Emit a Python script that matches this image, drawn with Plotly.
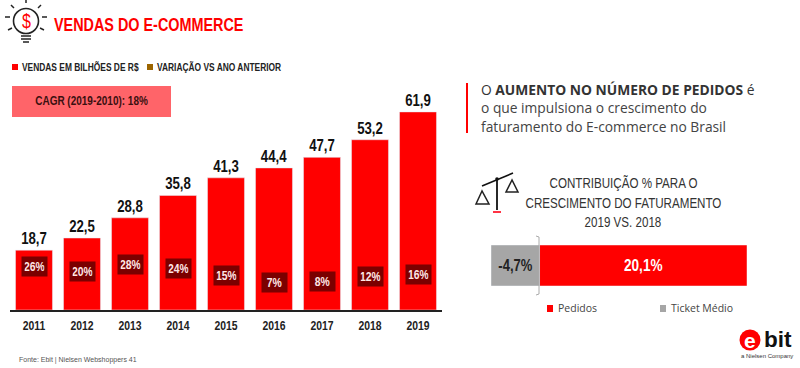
import plotly.graph_objects as go

W, H = 800, 368
NARROW = "Liberation Sans Narrow, Liberation Sans, sans-serif"
OPEN = "Open Sans, sans-serif"
SANS = "Liberation Sans, sans-serif"

years = ["2011", "2012", "2013", "2014", "2015", "2016", "2017", "2018", "2019"]
sales = [18.7, 22.5, 28.8, 35.8, 41.3, 44.4, 47.7, 53.2, 61.9]
variation = [26, 20, 28, 24, 15, 7, 8, 12, 16]
contrib_names = ["Pedidos", "Ticket Médio"]
contrib_values = [20.1, -4.7]
contrib_labels = ["20,1%", "-4,7%"]

# vertical placement of the dark percentage boxes (style only, in pixels)
box_centers = [266, 271, 264, 268, 275, 282, 281, 276, 274]

RED = "#ff0000"
GRAY = "#a6a6a6"
DARKRED = "#7b0000"


def px(x):
    return x / W


def py(y):
    return 1 - y / H


def text(x, y, s, size, color="#222", font=NARROW, anchor="left"):
    return dict(xref="paper", yref="paper", x=px(x), y=py(y), text=s, showarrow=False,
                xanchor=anchor, yanchor="middle", align=anchor,
                font=dict(size=size, color=color, family=font))


def rect(x0, y0, x1, y1, fill, line=None):
    return dict(type="rect", xref="paper", yref="paper", x0=px(x0), x1=px(x1), y0=py(y0), y1=py(y1),
                fillcolor=fill, line=dict(width=0) if line is None else line, layer="above")


def seg(x0, y0, x1, y1, color="#222", width=1.5):
    return dict(type="line", xref="paper", yref="paper", x0=px(x0), x1=px(x1), y0=py(y0), y1=py(y1),
                line=dict(color=color, width=width), layer="above")


def circle(cx, cy, r, fill="rgba(0,0,0,0)", line=None):
    return dict(type="circle", xref="paper", yref="paper", x0=px(cx - r), x1=px(cx + r),
                y0=py(cy - r), y1=py(cy + r), fillcolor=fill,
                line=dict(width=0) if line is None else line, layer="above")


fig = go.Figure()
fig.add_trace(go.Bar(
    x=years, y=sales, xaxis="x", yaxis="y", marker=dict(color=RED),
    text=[f"{v:.1f}".replace(".", ",") for v in sales], textposition="outside", cliponaxis=False,
    textfont=dict(family=NARROW, size=16.5, color="#111", weight="bold"), showlegend=False,
))
for name, val, lab, col, tcol in zip(contrib_names, contrib_values, contrib_labels, [RED, GRAY], ["#fff", "#222"]):
    fig.add_trace(go.Bar(
        y=["c"], x=[val], orientation="h", xaxis="x2", yaxis="y2", name=name,
        marker=dict(color=col), text=[lab], textposition="inside", insidetextanchor="middle",
        textangle=0, textfont=dict(family=NARROW, size=17, color=tcol, weight="bold"), showlegend=False, width=1,
    ))

ann = [
    text(52, 25, "<b>VENDAS DO E-COMMERCE</b>", 18, RED),
    text(19.5, 67, "<b>VENDAS EM BILHÕES DE R$</b>", 10.5),
    text(154.5, 67, "<b>VARIAÇÃO VS ANO ANTERIOR</b>", 10.5),
    text(91.5, 101, "<b>CAGR (2019-2010): 18%</b>", 12.5, "#3a1010", anchor="center"),
    text(17, 360, "Fonte: Ebit | Nielsen Webshoppers 41", 7, "#555", SANS),
    text(478.5, 90, "O <b>AUMENTO NO NÚMERO DE PEDIDOS</b> é", 13.8, "#333", OPEN),
    text(478.5, 108, "o que impulsiona o crescimento do", 13.8, "#444", OPEN),
    text(478.5, 126, "faturamento do E-commerce no Brasil", 13.8, "#444", OPEN),
    text(623, 183, "CONTRIBUIÇÃO % PARA O", 14.5, "#333", anchor="center"),
    text(623, 203, "CRESCIMENTO DO FATURAMENTO", 14.5, "#333", anchor="center"),
    text(623, 222, "2019 VS. 2018", 14.5, "#333", anchor="center"),
    text(555.5, 308, "Pedidos", 10.5, "#444", OPEN),
    text(668.5, 308, "Ticket Médio", 10.5, "#444", OPEN),
    text(26, 21, "$", 20, RED, NARROW, "center"),
    text(761.5, 339, "<b>bit</b>", 22.5, "#111", SANS),
    text(750, 340, "<b>e</b>", 21, "#fff", SANS, "center"),
    text(766.5, 355.5, "a Nielsen Company", 6, "#333", SANS, "center"),
]
# category position is given by index: numeric-looking strings would be read as indices
for i, (v, c) in enumerate(zip(variation, box_centers)):
    ann.append(dict(xref="x", yref="paper", x=i, y=py(c), text=f"<b>{v}%</b>", showarrow=False,
                    bgcolor=DARKRED, width=25, height=19, borderpad=0, yanchor="middle", xanchor="center",
                    font=dict(family=NARROW, size=13, color="#ffe6e6")))

shapes = [
    rect(12, 64, 18, 70, RED),
    rect(147, 64, 153, 70, "#9c6500"),
    rect(12, 86, 171, 117, "#ff6469"),
    rect(466, 83, 468, 133, RED),
    rect(547, 305, 553, 312, RED),
    rect(660, 305, 666, 312, GRAY),
    dict(type="path", xref="paper", yref="paper", layer="above", line=dict(color="#aaa", width=1),
         path=f"M {px(536)} {py(236)} L {px(539)} {py(237)} L {px(539)} {py(294)} L {px(536)} {py(295)}"),
    # bulb icon
    circle(26, 21, 12.5, line=dict(color="#222", width=1.6)),
    seg(21, 36, 31, 36), seg(21, 39, 31, 39), seg(23, 42, 29, 42),
    seg(26, 0, 26, 3), seg(11, 5, 14, 8), seg(38, 8, 41, 5),
    seg(5, 17, 10, 17), seg(42, 17, 47, 17), seg(8, 30, 12, 28), seg(40, 28, 44, 30),
    # scale icon
    seg(482, 186, 513, 173, "#111", 1.6), seg(497, 179, 497, 210, "#111", 1.8),
    rect(493, 211, 501, 213, "#ff3344"),
    circle(497, 179, 1.8, "#111"),
    dict(type="path", xref="paper", yref="paper", layer="above", line=dict(color="#222", width=1.5),
         path=f"M {px(482)} {py(191)} L {px(476)} {py(204)} L {px(489)} {py(204)} Z"),
    dict(type="path", xref="paper", yref="paper", layer="above", line=dict(color="#222", width=1.5),
         path=f"M {px(512)} {py(180)} L {px(506)} {py(192)} L {px(518)} {py(192)} Z"),
    # logo
    circle(750, 340, 10.5, RED),
]

fig.update_layout(
    width=W, height=H, margin=dict(l=0, r=0, t=0, b=0), paper_bgcolor="#fff", plot_bgcolor="#fff",
    barmode="overlay", bargap=0.23, showlegend=False, annotations=ann, shapes=shapes,
    xaxis=dict(domain=[px(10), px(442)], type="category", categoryorder="array", categoryarray=years,
               range=[-0.5, 8.5], anchor="y", showgrid=False, showline=True, linecolor="#222", linewidth=2,
               ticks="", automargin=False, ticklabelstandoff=2,
               tickfont=dict(family=NARROW, size=13, color="#222", weight="bold")),
    yaxis=dict(domain=[py(310), py(90)], range=[0, 68.75], visible=False, anchor="x"),
    xaxis2=dict(domain=[px(491), px(747)], range=[-4.7, 20.1], visible=False, anchor="y2"),
    yaxis2=dict(domain=[py(286), py(245)], type="category", visible=False, anchor="x2", range=[-0.5, 0.5]),
)

# no condensed face is installed: condense the "Narrow" texts horizontally around their anchor
POST = """
document.body.style.margin = '0';
document.querySelectorAll('svg text').forEach(function (t) {
  if (!(t.style.fontFamily || '').includes('Narrow')) return;
  var b = t.getBBox();
  var a = t.getAttribute('text-anchor');
  var p = a === 'start' ? b.x : (a === 'end' ? b.x + b.width : b.x + b.width / 2);
  var tr = t.getAttribute('transform') || '';
  t.setAttribute('transform', tr + ' translate(' + p + ',0) scale(0.8,1) translate(' + (-p) + ',0)');
});
"""
fig.write_html("out.html", post_script=POST, config={"displayModeBar": False})
